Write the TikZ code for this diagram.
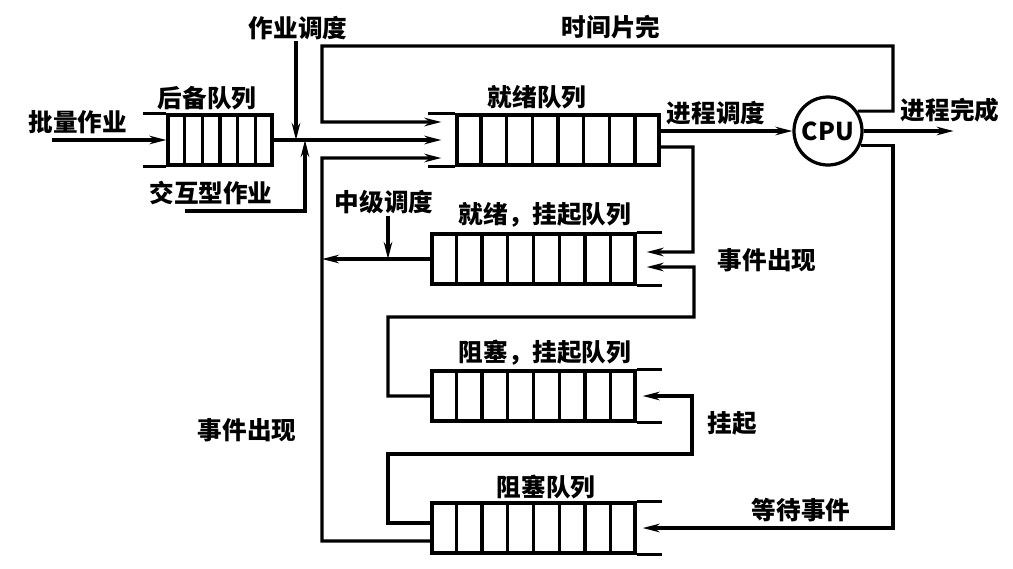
\documentclass[tikz,border=0pt]{standalone}
\usepackage{fontspec}
\setmainfont{Noto Sans CJK SC}
\usepackage{tikz}
\usetikzlibrary{calc,arrows.meta,positioning}
\tikzset{
    queue/.style={draw, line width=2.3pt, minimum height=1.25cm, inner sep=0pt},
    cpu/.style={circle, draw, line width=2.3pt, minimum size=1.7cm, inner sep=0pt},
    conn/.style={draw, line width=2.3pt},
    arr/.style={draw, line width=2.2pt, -{Stealth[length=12pt,width=6pt]}},
    lbl/.style={inner sep=1pt, font=\fontsize{17.5}{20}\selectfont\bfseries}
}

\begin{document}
\begin{tikzpicture}[x=0.025cm, y=-0.025cm]
\useasboundingbox (0,0) rectangle (1013,568);

% Queues and the CPU
\node[queue, minimum width=2.6cm]   (hb)   at (220,140)   {};
\node[queue, minimum width=5.05cm]  (jx)   at (558,140)   {};
\node[queue, minimum width=5.075cm] (jxgq) at (533.5,259) {};
\node[queue, minimum width=5.075cm] (zsgq) at (533.5,396) {};
\node[queue, minimum width=5.075cm] (zs)   at (533.5,528) {};
\node[cpu, lbl] (cpu) at (828,131) {CPU};

% Cells of the queues
\foreach \i in {1,...,5}
  \draw[conn] ($(hb.south west)!\i/6!(hb.south east)$) -- ($(hb.north west)!\i/6!(hb.north east)$);
\foreach \q in {jx,jxgq,zsgq,zs}
  \foreach \i in {1,...,7}
    \draw[conn] ($(\q.south west)!\i/8!(\q.south east)$) -- ($(\q.north west)!\i/8!(\q.north east)$);

% Open ends
\draw[conn] (hb.north west) -- ++(-23,0) (hb.south west) -- ++(-23,0);
\draw[conn] (jx.north west) -- ++(-27,0) (jx.south west) -- ++(-27,0);
\foreach \q in {jxgq,zsgq,zs}
  \draw[conn] (\q.north east) -- ++(25,0) (\q.south east) -- ++(25,0);

% Labels
\node[lbl] (lpl)    at (78,122)  {批量作业};
\node[lbl] (lhb)    at (207,98)  {后备队列};
\node[lbl] (lzydd)  at (298,28)  {作业调度};
\node[lbl] (ljh)    at (211,193) {交互型作业};
\node[lbl] (lsjp)   at (611,27)  {时间片完};
\node[lbl] (ljx)    at (537,97)  {就绪队列};
\node[lbl] (ljcdd)  at (716,113) {进程调度};
\node[lbl] (ljcwc)  at (950,110) {进程完成};
\node[lbl] (lzjdd)  at (384,202) {中级调度};
\node[lbl] (ljxgq)  at (545,215) {就绪，挂起队列};
\node[lbl] (lsjcx)  at (767,260) {事件出现};
\node[lbl] (lzsgq)  at (545,353) {阻塞，挂起队列};
\node[lbl] (lgq)    at (732,423) {挂起};
\node[lbl] (lsjcx2) at (247,430) {事件出现};
\node[lbl] (lzs)    at (546,487) {阻塞队列};
\node[lbl] (lddsj)  at (801,510) {等待事件};

% Free ends and junctions
\coordinate (pin) at (52,140);
\coordinate (jin) at (185,211);
\coordinate (m1)  at (296,140);
\coordinate (m2)  at (305,140);
\coordinate (lft) at (322,0);

% Connectors
\draw[arr] (pin) -- (hb.west);
\draw[arr] (hb.east) -- ([xshift=-0.35cm]jx.west);
\draw[arr] (lzydd.south -| m1) -- (m1);
\draw[arr] (jin) -| (m2);
\draw[arr] (cpu.34) -| (893,46) -| (322,122) -- ([xshift=-0.35cm,yshift=0.45cm]jx.west);
\draw[arr] ([yshift=-0.325cm]zs.west) -| (322,158) -- ([xshift=-0.35cm,yshift=-0.45cm]jx.west);
\draw[arr] (jxgq.west) -- (jxgq.west -| lft);
\draw[arr] ([xshift=0.1cm]lzjdd.south) -- ([xshift=0.1cm]lzjdd.south |- jxgq.west);
\draw[arr] (jx.east |- cpu.west) -- (cpu.west);
\draw[arr] (cpu.east) -- ++(90,0);
\draw[arr] ([yshift=-0.175cm]jx.east) -| (693,252) -- ([xshift=0.25cm,yshift=0.175cm]jxgq.east);
\draw[arr] (zsgq.west) -| (388,317) -| (694,267) -- ([xshift=0.25cm,yshift=-0.2cm]jxgq.east);
\draw[arr] ([yshift=0.125cm]zs.west) -| (388,454) -| (692,396) -- ([xshift=0.15cm]zsgq.east);
\draw[arr] (cpu.-24) -| (893,528) -- ([xshift=0.15cm]zs.east);
\end{tikzpicture}
\end{document}
